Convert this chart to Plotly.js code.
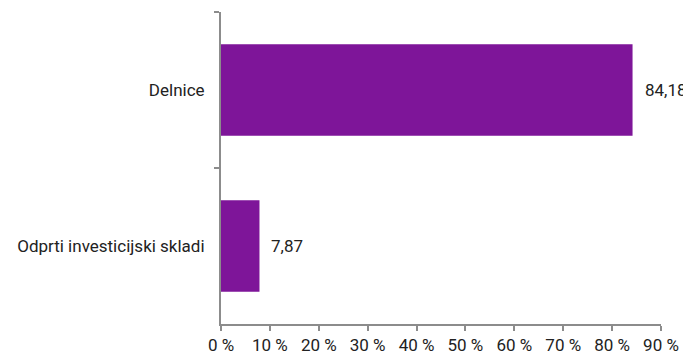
<!DOCTYPE html>
<html>
<head>
<meta charset="utf-8">
<script src="https://cdn.plot.ly/plotly-3.0.1.min.js"></script>
<style>html,body{margin:0;padding:0;background:#fff;}#chart{width:683px;height:356px;}</style>
</head>
<body>
<div id="chart"></div>
<script>
const categories = ["Delnice", "Odprti investicijski skladi"];
const values = [84.18, 7.87];
const tickValues = [0, 10, 20, 30, 40, 50, 60, 70, 80, 90];

const fmt = v => v.toFixed(2).replace('.', ',');

const trace = {
  type: 'bar',
  orientation: 'h',
  x: values,
  y: categories,
  marker: {color: '#7E1599'},
  hoverinfo: 'none',
  width: 0.585
};

const annotations = values.map((v, i) => ({
  x: v, y: categories[i], xref: 'x', yref: 'y',
  text: fmt(v), showarrow: false, xanchor: 'left', yanchor: 'middle',
  xshift: 10, font: {family: 'Roboto, sans-serif', size: 17, color: '#222'}
}));

const layout = {
  width: 683, height: 356,
  margin: {l: 221, r: 22, t: 12, b: 32},
  paper_bgcolor: '#fff', plot_bgcolor: '#fff',
  showlegend: false,
  font: {family: 'Roboto, sans-serif', size: 17, color: '#222'},
  xaxis: {
    range: [0, 90], tickvals: tickValues, ticktext: tickValues.map(t => t + ' %'),
    showgrid: false, zeroline: false, showline: true, linecolor: '#8c8c8c', linewidth: 2,
    ticks: 'outside', ticklen: 5, tickcolor: '#8c8c8c', tickwidth: 2,
    ticklabelstandoff: 0, fixedrange: true
  },
  yaxis: {
    autorange: 'reversed', type: 'category',
    showgrid: false, zeroline: false, showline: true, linecolor: '#8c8c8c', linewidth: 2,
    ticks: 'outside', ticklen: 5, tickcolor: '#8c8c8c', tickwidth: 2, tickson: 'boundaries',
    ticklabelstandoff: 11, fixedrange: true
  },
  annotations: annotations
};

Plotly.newPlot('chart', [trace], layout, {displayModeBar: false, staticPlot: true});
</script>
</body>
</html>
